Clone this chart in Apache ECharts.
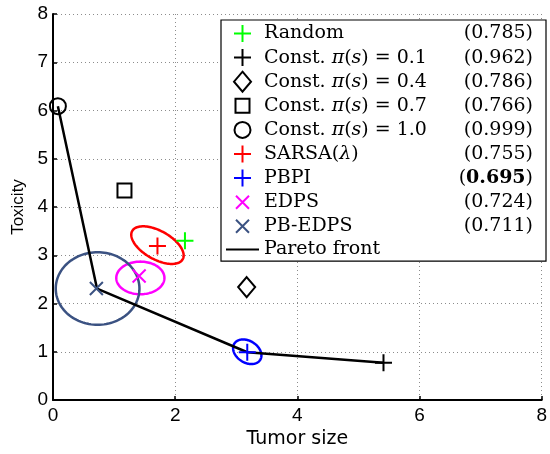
<!DOCTYPE html>
<html><head><meta charset="utf-8">
<script src="https://cdn.jsdelivr.net/npm/echarts@6/dist/echarts.min.js"></script>
<style>html,body{margin:0;padding:0;background:#fff}#c{width:550px;height:454px}</style>
</head><body><div id="c"></div>
<script>
// ---- data ----
const methods = ['Random', 'Const. π(s) = 0.1', 'Const. π(s) = 0.4', 'Const. π(s) = 0.7',
  'Const. π(s) = 1.0', 'SARSA(λ)', 'PBPI', 'EDPS', 'PB-EDPS'];
const tumorSize = [2.16, 5.41, 3.17, 1.17, 0.08, 1.71, 3.18, 1.41, 0.71];
const toxicity  = [3.30, 0.77, 2.34, 4.34, 6.09, 3.19, 0.99, 2.57, 2.31];
const scores    = ['0.785', '0.962', '0.786', '0.766', '0.999', '0.755', '0.695', '0.724', '0.711'];
const bestScore = '0.695';
const paretoName = 'Pareto front';
const paretoX = [0.08, 0.72, 3.18, 5.41];
const paretoY = [6.09, 2.31, 0.99, 0.77];
// spread ellipses: centre and the two semi-axis vectors (data units)
const ellipseMethods = ['SARSA(λ)', 'PBPI', 'EDPS', 'PB-EDPS'];
const ellipseCX = [1.71, 3.18, 1.43, 0.73];
const ellipseCY = [3.21, 1.00, 2.53, 2.31];
const ellipseU  = [[0.414, -0.292], [0.212, -0.168], [0.394, 0], [0.685, 0]];
const ellipseV  = [[-0.112, -0.258], [-0.094, -0.192], [0, 0.338], [0, 0.752]];

// ---- styles ----
const colors = ['#00ff00', '#000000', '#000000', '#000000', '#000000', '#ff0000', '#0000ff', '#ff00ff', '#3b5282'];
const PLUS = 'path://M0,0M20,20M10,1.5V18.5M1.5,10H18.5';
const CROSS = 'path://M0,0M20,20M3.5,3.5L16.5,16.5M16.5,3.5L3.5,16.5';
const DIAMOND = 'path://M0,0M20,20M10,0L18.5,10L10,20L1.5,10Z';
const SQUARE = 'path://M0,0M20,20M3,3H17V17H3Z';
const CIRCLE = 'path://M0,0M20,20M18,10A8,8,0,1,1,2,10A8,8,0,1,1,18,10Z';
const symbols = [PLUS, PLUS, DIAMOND, SQUARE, CIRCLE, PLUS, PLUS, CROSS, CROSS];

const serif = 'DejaVu Serif';
const fs = 19, lh = 23.2;
const rich = {
  r:  {fontFamily: serif, fontSize: fs, lineHeight: lh, color: '#000'},
  i:  {fontFamily: serif, fontSize: fs, lineHeight: lh, color: '#000', fontStyle: 'italic'},
  v:  {fontFamily: serif, fontSize: fs, lineHeight: lh, color: '#000', align: 'right'},
  vb: {fontFamily: serif, fontSize: fs, lineHeight: lh, color: '#000', align: 'right', fontWeight: 'bold'}
};
function nameRich(name) {
  let m = name.match(/^(Const\. )π\((s)\)(.*)$/);
  if (m) return '{r|' + m[1] + '}{i|π}{r|(}{i|s}{r|)' + m[3] + '}';
  m = name.match(/^(.*)\(λ\)$/);
  if (m) return '{r|' + m[1] + '(}{i|λ}{r|)}';
  return '{r|' + name + '}';
}
function legendFormatter(name) {
  const k = methods.indexOf(name);
  if (k < 0) return nameRich(name);
  const sc = scores[k];
  const val = sc === bestScore ? '{v|(}{vb|' + sc + '}{v|)}' : '{v|(' + sc + ')}';
  return nameRich(name) + val;
}

const series = [];
series.push({
  type: 'custom', name: 'spread', silent: true, z: 1,
  data: ellipseMethods.map((m, k) => [ellipseCX[k], ellipseCY[k], ellipseU[k][0], ellipseU[k][1], ellipseV[k][0], ellipseV[k][1]]),
  renderItem: function (params, api) {
    const cx = api.value(0), cy = api.value(1), ux = api.value(2), uy = api.value(3), vx = api.value(4), vy = api.value(5);
    const pts = [];
    const N = 120;
    for (let j = 0; j < N; j++) {
      const t = 2 * Math.PI * j / N;
      const c = Math.cos(t), s = Math.sin(t);
      pts.push(api.coord([cx + ux * c + vx * s, cy + uy * c + vy * s]));
    }
    const col = colors[methods.indexOf(ellipseMethods[params.dataIndex])];
    return {type: 'polygon', shape: {points: pts}, style: {fill: 'none', stroke: col, lineWidth: 2.5}};
  }
});
series.push({
  type: 'line', name: paretoName, z: 3, symbol: 'none', silent: true,
  data: paretoX.map((x, k) => [x, paretoY[k]]),
  lineStyle: {color: '#000', width: 2.5}, itemStyle: {color: '#000'}
});
methods.forEach((m, k) => {
  series.push({
    type: 'scatter', name: m, z: 4, silent: true,
    symbol: symbols[k], symbolSize: 20,
    data: [[tumorSize[k], toxicity[k]]],
    itemStyle: {color: 'none', borderColor: colors[k], borderWidth: 2, opacity: 1},
    emphasis: {disabled: true}
  });
});

const legendData = methods.map(m => ({name: m})).concat([{
  name: paretoName,
  itemStyle: {color: 'rgba(0,0,0,0)', borderColor: 'rgba(0,0,0,0)', borderWidth: 0},
  lineStyle: {color: '#000', width: 2}
}]);

const chart = echarts.init(document.getElementById('c'), null, {renderer: 'canvas'});
chart.setOption({
  animation: false,
  backgroundColor: '#fff',
  grid: {left: 53, right: 6, top: 14, bottom: 54, containLabel: false},
  xAxis: {
    type: 'value', min: 0, max: 8, interval: 2,
    name: 'Tumor size', nameLocation: 'middle', nameGap: 26,
    nameTextStyle: {fontFamily: 'DejaVu Sans', fontSize: 19, color: '#000'},
    axisLine: {show: true, onZero: false, lineStyle: {color: '#000', width: 2}},
    axisTick: {show: true, inside: true, length: 4, lineStyle: {color: '#000', width: 1.5}},
    axisLabel: {fontFamily: 'Liberation Sans', fontSize: 19, color: '#000', margin: 6},
    splitLine: {show: true, lineStyle: {color: '#8c8c8c', type: [1, 3], width: 1}}
  },
  yAxis: {
    type: 'value', min: 0, max: 8, interval: 1,
    name: 'Toxicity', nameLocation: 'middle', nameGap: 22,
    nameTextStyle: {fontFamily: 'Liberation Sans', fontSize: 17, color: '#000'},
    axisLine: {show: true, onZero: false, lineStyle: {color: '#000', width: 2}},
    axisTick: {show: true, inside: true, length: 4, lineStyle: {color: '#000', width: 1.5}},
    axisLabel: {fontFamily: 'Liberation Sans', fontSize: 19, color: '#000', margin: 5},
    splitLine: {show: true, lineStyle: {color: '#8c8c8c', type: [1, 3], width: 1}}
  },
  legend: {
    orient: 'vertical', left: 221, top: 20,
    itemWidth: 33, itemHeight: 20, itemGap: -0.9,
    padding: [1, 13, 0, 4],
    borderColor: '#000', borderWidth: 1.2, backgroundColor: '#fff',
    selectedMode: false,
    data: legendData,
    textStyle: {width: 269, lineHeight: lh, fontFamily: serif, fontSize: fs, color: '#000', rich: rich},
    formatter: legendFormatter
  },
  series: series
});
</script></body></html>
